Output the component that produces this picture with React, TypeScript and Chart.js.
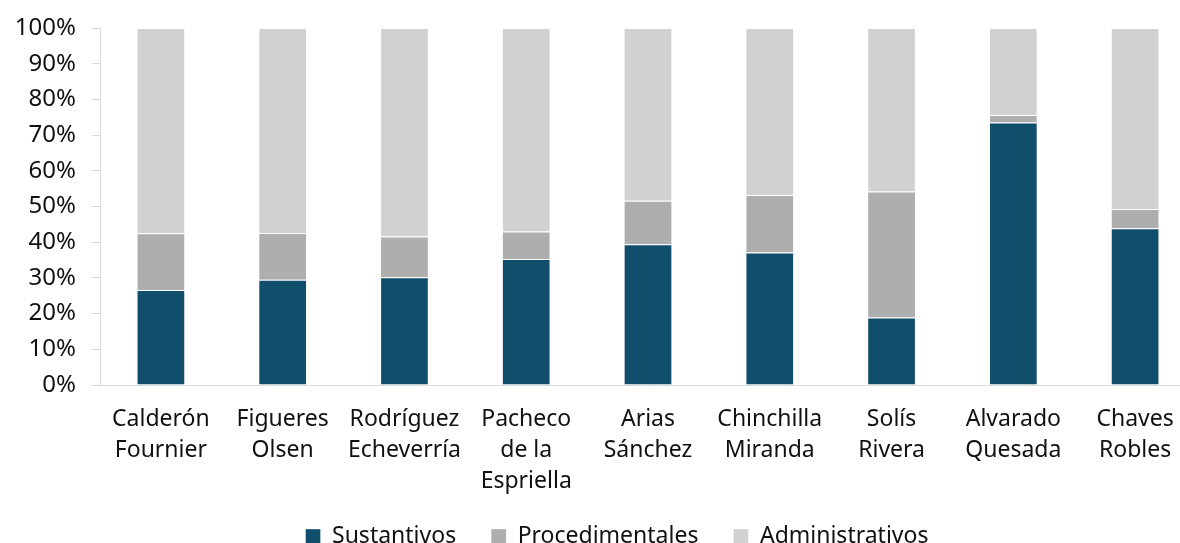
import React, { useEffect, useRef } from "react";
import { Chart, registerables } from "chart.js";

Chart.register(...registerables);

const categories: string[][] = [
  ["Calderón", "Fournier"],
  ["Figueres", "Olsen"],
  ["Rodríguez", "Echeverría"],
  ["Pacheco", "de la", "Espriella"],
  ["Arias", "Sánchez"],
  ["Chinchilla", "Miranda"],
  ["Solís", "Rivera"],
  ["Alvarado", "Quesada"],
  ["Chaves", "Robles"],
];

const sustantivos = [26.6, 29.5, 30.2, 35.3, 39.4, 37.1, 18.9, 73.5, 43.9];
const procedimentales = [15.9, 13.1, 11.4, 7.7, 12.2, 16.1, 35.3, 2.1, 5.4];
const administrativos = sustantivos.map((s, i) => +(100 - s - procedimentales[i]).toFixed(1));

const yTicks = [0, 10, 20, 30, 40, 50, 60, 70, 80, 90, 100];

const FONT = "'Noto Sans', sans-serif";
const FS = 23;

const legendShift = {
  id: "legendShift",
  afterLayout(chart: any) {
    const lg = chart.legend;
    if (!lg) return;
    lg.left += 19;
    lg.right += 19;
    lg.top -= 7;
    lg.bottom -= 7;
  },
};

export default function App() {
  const ref = useRef<HTMLCanvasElement | null>(null);

  useEffect(() => {
    if (!ref.current) return;
    const common = {
      borderColor: "rgba(255,255,255,0.35)",
      borderWidth: 1,
      barPercentage: 0.8,
      categoryPercentage: 0.5,
    };
    const chart = new Chart(ref.current, {
      type: "bar",
      data: {
        labels: categories,
        datasets: [
          { label: "Sustantivos", data: sustantivos, backgroundColor: "#104e6b", ...common },
          { label: "Procedimentales", data: procedimentales, backgroundColor: "#aeaeae", ...common },
          { label: "Administrativos", data: administrativos, backgroundColor: "#d1d1d1", ...common },
        ],
      },
      plugins: [legendShift],
      options: {
        animation: false,
        responsive: false,
        maintainAspectRatio: false,
        layout: { padding: { top: 28, right: 28, bottom: 0, left: 0 } },
        plugins: {
          tooltip: { enabled: false },
          legend: {
            position: "bottom",
            labels: {
              boxWidth: 15,
              boxHeight: 15,
              padding: 35,
              color: "#111",
              font: { family: FONT, size: FS },
            },
          },
        },
        scales: {
          x: {
            stacked: true,
            grid: { display: false, drawTicks: false },
            border: { display: true, color: "#d9d9d9", width: 1 },
            ticks: {
              color: "#111",
              padding: 19,
              maxRotation: 0,
              autoSkip: false,
              font: { family: FONT, size: FS, lineHeight: 31 / FS },
            },
            afterFit: (s: any) => {
              s.height = 112;
            },
          },
          y: {
            stacked: true,
            min: 0,
            max: 100,
            afterBuildTicks: (s: any) => {
              s.ticks = yTicks.map((v) => ({ value: v }));
            },
            grid: {
              display: true,
              drawOnChartArea: false,
              drawTicks: true,
              tickLength: 8,
              color: "#d9d9d9",
            },
            border: { display: true, color: "#d9d9d9", width: 1 },
            ticks: {
              color: "#111",
              padding: 16,
              font: { family: FONT, size: 24 },
              callback: (v: any) => `${v}%`,
            },
            afterFit: (s: any) => {
              s.width = 100;
              s.paddingTop = 0;
              s.paddingBottom = 0;
            },
          },
        },
      },
    });
    return () => chart.destroy();
  }, []);

  return (
    <div
      style={{
        position: "absolute",
        left: 0,
        top: 0,
        width: 1180,
        height: 543,
        overflow: "hidden",
        background: "#fff",
      }}
    >
      <canvas ref={ref} width={1224} height={565} style={{ display: "block" }} />
    </div>
  );
}
